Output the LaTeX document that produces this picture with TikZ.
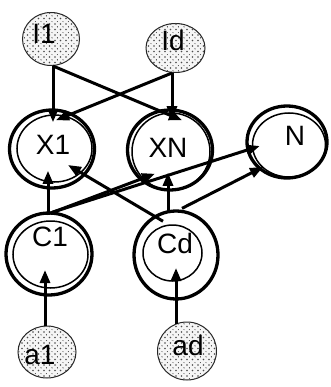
\documentclass[tikz,border=0pt]{standalone}
\usepackage{fontspec}
\setmainfont{Liberation Sans}
\usetikzlibrary{shapes.geometric,arrows.meta,patterns.meta}

% stippled fill for the input/output nodes
\tikzdeclarepattern{
  name=stipple,
  type=uncolored,
  bottom left={(-2.75pt,-2.75pt)},
  top right={(2.75pt,2.75pt)},
  tile size={(5.5pt,5.5pt)},
  code={\fill (0pt,0pt) circle (0.8pt); \fill (2.75pt,2.75pt) circle (0.8pt);}
}

\begin{document}
\begin{tikzpicture}[x=1pt,y=-1pt,
  shell/.style={ellipse,draw,line width=3.3pt,inner sep=0pt},
  core/.style={ellipse,draw,line width=1.5pt,inner sep=0pt},
  dotted node/.style={ellipse,draw=black!85,line width=1pt,inner sep=0pt,
    fill=black!4,postaction={pattern={stipple},pattern color=black!70}},
  lbl/.style={inner sep=0pt,font=\fontsize{28}{32}\selectfont},
  arr/.style={line width=3pt,-{Triangle[length=13pt,width=10pt]}}]
\useasboundingbox (0,0) rectangle (330,387);

% stippled input nodes
\node[dotted node,minimum width=57pt,minimum height=53pt] (I1) at (51,39) {};
\node[dotted node,minimum width=59pt,minimum height=49pt] (Id) at (175.5,48) {};
\node[dotted node,minimum width=58pt,minimum height=52pt] (a1) at (47,352) {};
\node[dotted node,minimum width=59pt,minimum height=58pt] (ad) at (187,351) {};

% double-ring nodes
\node[shell,minimum width=85pt,minimum height=78pt] (X1) at (52,149) {};
\node[core,minimum width=75pt,minimum height=67pt] (X1i) at (54.5,148.5) {};
\node[shell,minimum width=85pt,minimum height=80pt] (XN) at (170,150) {};
\node[core,minimum width=78pt,minimum height=77pt] (XNi) at (171,151.5) {};
\node[shell,minimum width=80pt,minimum height=72pt] (N) at (287,142) {};
\node[core,minimum width=73pt,minimum height=64pt] (Ni) at (289,145) {};
\node[shell,minimum width=86pt,minimum height=82pt] (C1) at (49,254) {};
\node[core,minimum width=75pt,minimum height=67pt] (C1i) at (50.5,254.5) {};
\node[shell,minimum width=84pt,minimum height=88pt] (Cd) at (176,255) {};
\node[core,minimum width=59pt,minimum height=56pt] (Cdi) at (172.5,253) {};

% labels
\node[lbl] (tI1) at (44,34) {I1};
\node[lbl] (tId) at (173,40) {Id};
\node[lbl] (ta1) at (40,355) {a1};
\node[lbl] (tad) at (188,345) {ad};
\node[lbl] (tX1) at (53,145) {X1};
\node[lbl] (tXN) at (168,148) {XN};
\node[lbl] (tN) at (295,136) {N};
\node[lbl] (tC1) at (50,237) {C1};
\node[lbl] (tCd) at (175,243) {Cd};

% inputs into the X layer
\draw[arr] ([xshift=2pt]I1.south) -- ([xshift=-1.5pt,yshift=-8pt]X1i.north);
\draw[arr] ([xshift=2pt]I1.south) -- ([xshift=11pt,yshift=-8pt]XNi.north);
\draw[arr] ([xshift=-3.5pt]Id.south) -- ([xshift=1pt,yshift=-7pt]XNi.north);
\draw[arr] ([xshift=-3.5pt]Id.south) -- ([xshift=1.5pt,yshift=-6pt]X1i.north);

% C layer upwards
\draw[arr] ([xshift=-1pt,yshift=-4pt]C1.north) -- ([xshift=-6.5pt,yshift=12pt]X1i.south);
\draw[arr] ([xshift=1pt,yshift=-2pt]C1.north) -- ([xshift=-16pt,yshift=17pt]XNi.south);
\draw[arr] ([xshift=3pt,yshift=-1pt]C1.north) -- ([xshift=8pt,yshift=-1pt]Ni.west);
\draw[arr] ([xshift=-9.5pt,yshift=3pt]Cdi.north) -- ([xshift=13.5pt,yshift=-16.5pt]X1i.center);
\draw[arr] ([xshift=-8pt,yshift=-4pt]Cd.north) -- ([xshift=-3pt,yshift=18pt]XNi.south);
\draw[arr] ([xshift=6pt,yshift=1pt]Cd.north) -- ([xshift=-26pt,yshift=-22pt]Ni.center);

% actions into the C layer
\draw[arr] ([xshift=-2pt]a1.north) -- ([xshift=-5.5pt,yshift=-15.5pt]C1i.center);
\draw[arr] ([xshift=-11pt,yshift=-2pt]ad.north) -- ([xshift=3.5pt,yshift=-15pt]Cdi.center);
\end{tikzpicture}
\end{document}
